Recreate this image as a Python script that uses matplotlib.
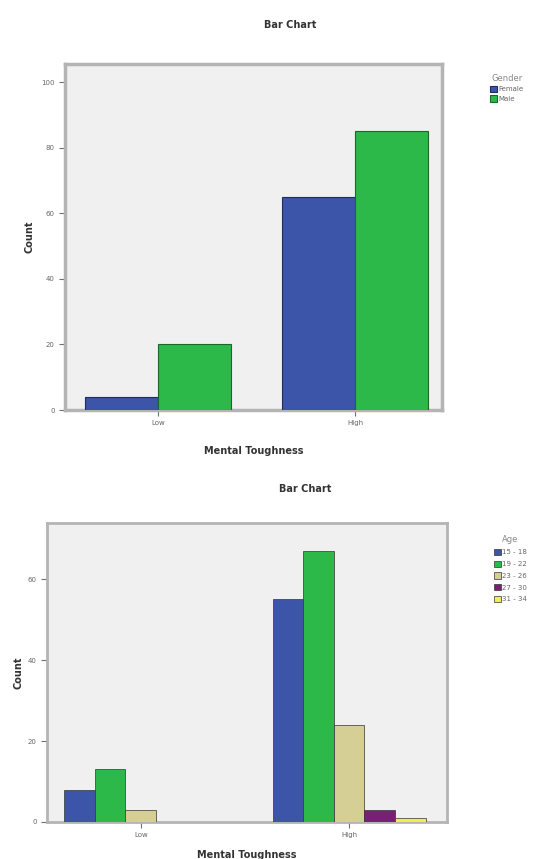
import matplotlib
matplotlib.use("Agg")
import matplotlib.pyplot as plt
import numpy as np

# ---- data ----
categories = ["Low", "High"]
gender_labels = ["Female", "Male"]
gender_female = [4, 65]
gender_male = [20, 85]

age_labels = ["15 - 18", "19 - 22", "23 - 26", "27 - 30", "31 - 34"]
age_counts = {
    "15 - 18": [8, 55],
    "19 - 22": [13, 67],
    "23 - 26": [3, 24],
    "27 - 30": [0, 3],
    "31 - 34": [0, 1],
}

gender_colors = ["#3d55a8", "#2db84a"]
age_colors = ["#3d55a8", "#2db84a", "#d6cf95", "#7a1f72", "#eeee55"]

plt.rcParams['font.family'] = ['DejaVu Sans']

fig = plt.figure(figsize=(5.38, 8.59), dpi=100)

frame_col = "#b4b4b4"
bg = "#f0f0f0"
tick_col = "#707070"

def style_axes(ax, lw):
    ax.set_facecolor(bg)
    for s in ax.spines.values():
        s.set_color(frame_col)
        s.set_linewidth(lw)
    ax.tick_params(axis='both', colors=tick_col, labelsize=5, length=4, width=0.8,
                   labelcolor="#666666")

def style_legend(leg):
    for t in leg.get_texts():
        t.set_color("#666666")
    leg.get_title().set_color("#888888")

# ---- top chart ----
ax1 = fig.add_axes([0.1208, 0.5227, 0.7008, 0.4028])
style_axes(ax1, 2.5)
x = np.arange(len(categories))
w = 0.37
ax1.bar(x - w/2, gender_female, w, color=gender_colors[0], edgecolor="#1e2d60",
        linewidth=0.8, label=gender_labels[0], zorder=3)
ax1.bar(x + w/2, gender_male, w, color=gender_colors[1], edgecolor="#156b28",
        linewidth=0.8, label=gender_labels[1], zorder=3)
ax1.set_xlim(-0.47, 1.44)
ax1.set_ylim(0, 105.6)
ax1.set_yticks([0, 20, 40, 60, 80, 100])
ax1.set_xticks(x)
ax1.set_xticklabels(categories)
ax1.set_ylabel("Count", fontsize=7, fontweight='bold', color="#333333", labelpad=5)
ax1.set_xlabel("Mental Toughness", fontsize=7, fontweight='bold', color="#333333", labelpad=14)
fig.text(0.539, 0.971, "Bar Chart", ha='center', va='center', fontsize=7,
         fontweight='bold', color="#333333")
leg1 = ax1.legend(loc='upper left', bbox_to_anchor=(1.12, 0.98), frameon=False,
                  fontsize=5, title="Gender", title_fontsize=6,
                  handlelength=1.0, handleheight=1.0, handletextpad=0.2,
                  labelspacing=0.45, borderaxespad=0)
style_legend(leg1)

# ---- bottom chart ----
ax2 = fig.add_axes([0.0874, 0.0431, 0.7435, 0.348])
style_axes(ax2, 2.0)
n = len(age_labels)
w2 = 0.147
for i, lab in enumerate(age_labels):
    offs = (i - (n - 1) / 2) * w2
    ax2.bar(x + offs, age_counts[lab], w2, color=age_colors[i], edgecolor="#333333",
            linewidth=0.5, label=lab, zorder=3)
ax2.set_xlim(-0.45, 1.47)
ax2.set_ylim(0, 73.9)
ax2.set_yticks([0, 20, 40, 60])
ax2.set_xticks(x)
ax2.set_xticklabels(categories)
ax2.set_ylabel("Count", fontsize=7, fontweight='bold', color="#333333", labelpad=3)
ax2.set_xlabel("Mental Toughness", fontsize=7, fontweight='bold', color="#333333", labelpad=8)
fig.text(0.567, 0.431, "Bar Chart", ha='center', va='center', fontsize=7,
         fontweight='bold', color="#333333")
leg2 = ax2.legend(loc='upper left', bbox_to_anchor=(1.11, 0.97), frameon=False,
                  fontsize=5, title="Age", title_fontsize=6,
                  handlelength=1.0, handleheight=1.0, handletextpad=0.2,
                  labelspacing=0.75, borderaxespad=0)
style_legend(leg2)

fig.savefig("out.png", dpi=100)
